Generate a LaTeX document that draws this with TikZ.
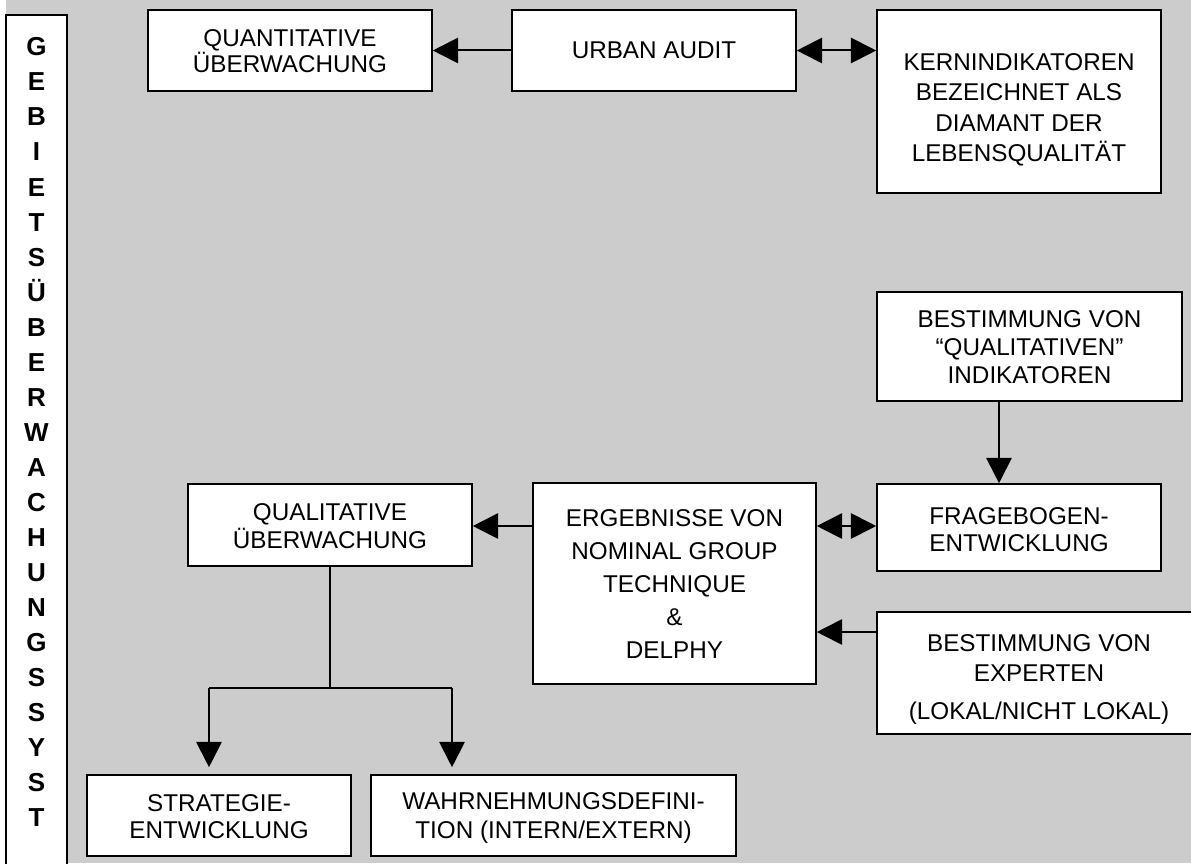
\documentclass[tikz,border=0pt]{standalone}
\usepackage{fontspec}
\setmainfont{Liberation Sans}
\usetikzlibrary{arrows.meta,fit,calc}
\definecolor{bg}{RGB}{204,204,204}
\begin{document}
\begin{tikzpicture}[x=0.75pt,y=-0.75pt,
  box/.style={draw=black, fill=white, line width=1.2pt, inner sep=0pt},
  txt/.style={font=\fontsize{18.2pt}{#1}\selectfont, align=center, inner sep=0pt, anchor=center},
  txt/.default=21pt,
  conn/.style={line width=1.5pt, -{Triangle[length=19pt,width=19pt]}},
  dconn/.style={line width=1.5pt, {Triangle[length=19pt,width=19pt]}-{Triangle[length=19pt,width=19pt]}},
  plain/.style={line width=1.5pt},
  sidel/.style={font=\fontsize{19.5pt}{21pt}\selectfont\bfseries, anchor=base, inner sep=0pt}]
\useasboundingbox (0,0) rectangle (1191,863);
\fill[white] (0,0) rectangle (1191,863);
\fill[bg] (6,0) rectangle (1191,863);

% side box
\node[box, fit={(6,15)(67,880)}] (side) {};
\foreach \l [count=\i from 0] in {G,E,B,I,E,T,S,Ü,B,E,R,W,A,C,H,U,N,G,S,S,Y,S,T}
  \node[sidel] (s\i) at (36.5,{56+35*\i}) {\l};

% boxes
\node[box, fit={(148,10)(432,91)}] (quant) {};
\node[txt=19.5pt] (quanttext) at ($(quant.center)+(0,1)$) {QUANTITATIVE\\ÜBERWACHUNG};
\node[box, fit={(512,10)(796,91)}] (urban) {};
\node[txt] (urbantext) at (urban.center) {URBAN AUDIT};
\node[box, fit={(877,10)(1161,193)}] (kern) {};
\node[txt=22.9pt] (kerntext) at (1019,110) {KERNINDIKATOREN\\BEZEICHNET ALS\\DIAMANT DER\\LEBENSQUALITÄT};
\node[box, fit={(877,292)(1182,401)}] (bestq) {};
\node[txt=21pt] (bestqtext) at ($(bestq.center)+(0,1)$) {BESTIMMUNG VON\\“QUALITATIVEN”\\INDIKATOREN};
\node[box, fit={(877,484)(1161,571)}] (frage) {};
\node[txt=19.9pt] (fragetext) at ($(frage.center)+(0,2)$) {FRAGEBOGEN-\\ENTWICKLUNG};
\node[box, fit={(533,483)(816,684)}] (ergeb) {};
\node[txt=24.75pt] (ergebtext) at ($(ergeb.center)+(0,1)$) {ERGEBNISSE VON\\NOMINAL GROUP\\TECHNIQUE\\\&\\DELPHY};
\node[box, fit={(188,484)(472,566)}] (qual) {};
\node[txt=21pt] (qualtext) at ($(qual.center)+(0,1)$) {QUALITATIVE\\ÜBERWACHUNG};
\node[box, fit={(877,612)(1201,734)}] (exp) {};
\node[txt=22.5pt] (exptext) at ($(exp.center)+(0,7)$) {BESTIMMUNG VON\\EXPERTEN\\[6pt](LOKAL/NICHT LOKAL)};
\node[box, fit={(87,775)(351,856)}] (strat) {};
\node[txt=20.25pt] (strattext) at ($(strat.center)+(0,1.5)$) {STRATEGIE-\\ENTWICKLUNG};
\node[box, fit={(371,775)(736,856)}] (wahr) {};
\node[txt=21.75pt] (wahrtext) at ($(wahr.center)+(0,2.5)$) {WAHRNEHMUNGSDEFINI-\\TION (INTERN/EXTERN)};

% connectors
\draw[conn] (urban.west) -- (quant.east);
\draw[dconn] (urban.east) -- (urban.east -| kern.west);
\coordinate (qa) at (999,0);
\draw[conn] (qa |- bestq.south) -- (qa |- frage.north);
\coordinate (fy) at (0,526);
\draw[dconn] (fy -| ergeb.east) -- (fy -| frage.west);
\coordinate (ey) at (0,632);
\draw[conn] (ey -| exp.west) -- (ey -| ergeb.east);
\draw[conn] (fy -| ergeb.west) -- (fy -| qual.east);

\coordinate (bl) at (209,688);
\coordinate (bm) at (330,688);
\coordinate (brr) at (452,688);
\draw[line width=1pt] (qual.south) -- (bm);
\draw[plain] (bl) -- (brr);
\draw[conn, shorten >=5.25pt] (bl) -- (bl |- strat.north);
\draw[conn, shorten >=5.25pt] (brr) -- (brr |- wahr.north);
\end{tikzpicture}
\end{document}
